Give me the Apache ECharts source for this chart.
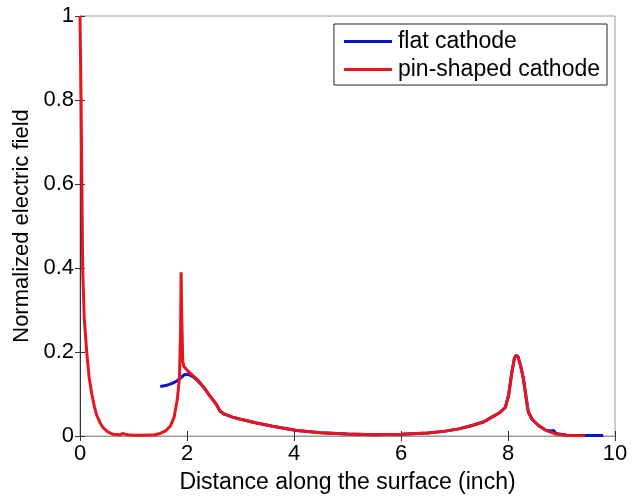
<!DOCTYPE html>
<html>
<head>
<meta charset="utf-8">
<script src="https://cdn.jsdelivr.net/npm/echarts@6/dist/echarts.min.js"></script>
<style>
  html, body { margin: 0; padding: 0; background: #fff; }
  #chart { width: 637px; height: 498px; }
</style>
</head>
<body>
<div id="chart"></div>
<script>
// 读图得到的数据
const redX = [0, 0.01, 0.02, 0.035, 0.05, 0.08, 0.125, 0.17, 0.22, 0.27, 0.31, 0.37, 0.43, 0.52, 0.62, 0.75, 0.8, 0.85, 0.9, 1.0, 1.2, 1.4, 1.5, 1.6, 1.69, 1.76, 1.82, 1.86, 1.88, 1.89, 1.90, 1.92, 1.94, 2.0, 2.1, 2.19, 2.3, 2.43, 2.55, 2.62, 2.7, 2.85, 3.0, 3.3, 3.6, 4.05, 4.5, 5.0, 5.5, 6.0, 6.5, 6.8, 7.08, 7.33, 7.55, 7.7, 7.85, 7.95, 8.01, 8.07, 8.12, 8.15, 8.19, 8.24, 8.29, 8.34, 8.38, 8.45, 8.57, 8.7, 8.88, 9.1, 9.44];
const redY = [1.0, 0.9, 0.8, 0.6, 0.4, 0.28, 0.2, 0.14, 0.1, 0.07, 0.05, 0.033, 0.02, 0.01, 0.004, 0.003, 0.006, 0.004, 0.003, 0.002, 0.002, 0.003, 0.006, 0.012, 0.024, 0.045, 0.088, 0.14, 0.25, 0.39, 0.3, 0.18, 0.166, 0.157, 0.145, 0.135, 0.118, 0.095, 0.075, 0.059, 0.052, 0.045, 0.04, 0.031, 0.023, 0.013, 0.008, 0.005, 0.003, 0.004, 0.007, 0.011, 0.017, 0.025, 0.034, 0.045, 0.056, 0.068, 0.096, 0.15, 0.185, 0.192, 0.188, 0.165, 0.135, 0.09, 0.057, 0.04, 0.025, 0.014, 0.005, 0.002, 0.0];

const blueX = [1.5, 1.6, 1.7, 1.8, 1.88, 1.95, 2.02, 2.1, 2.19, 2.3, 2.43, 2.55, 2.62, 2.7, 2.85, 3.0, 3.3, 3.6, 4.05, 4.5, 5.0, 5.5, 6.0, 6.5, 6.8, 7.08, 7.33, 7.55, 7.7, 7.85, 7.95, 8.01, 8.07, 8.12, 8.15, 8.19, 8.24, 8.29, 8.34, 8.38, 8.45, 8.57, 8.7, 8.8, 8.85, 8.9, 9.1, 9.4, 9.78];
const blueY = [0.118, 0.12, 0.124, 0.13, 0.138, 0.146, 0.147, 0.142, 0.133, 0.118, 0.095, 0.075, 0.059, 0.052, 0.045, 0.04, 0.031, 0.023, 0.013, 0.008, 0.005, 0.003, 0.004, 0.007, 0.011, 0.017, 0.025, 0.034, 0.045, 0.056, 0.068, 0.096, 0.15, 0.185, 0.192, 0.188, 0.165, 0.135, 0.09, 0.057, 0.04, 0.025, 0.014, 0.012, 0.013, 0.006, 0.002, 0.001, 0.001];

const seriesNames = ['flat cathode', 'pin-shaped cathode'];

function toPairs(xs, ys) {
  return xs.map((x, i) => [x, ys[i]]);
}

const font = 'Liberation Sans, Arial, sans-serif';
const chart = echarts.init(document.getElementById('chart'));

const tickInside = { show: true, inside: true, length: 5, lineStyle: { color: '#333' } };

chart.setOption({
  animation: false,
  grid: {
    left: 80, right: 22, top: 16, bottom: 62,
    outerBoundsMode: 'none', containLabel: false,
    show: true, borderColor: '#999', borderWidth: 1
  },
  legend: {
    orient: 'vertical',
    right: 30,
    top: 24,
    backgroundColor: '#fff',
    borderColor: '#222',
    borderWidth: 1,
    padding: [5, 7, 3, 10],
    itemGap: 3,
    itemWidth: 48,
    itemHeight: 3,
    icon: 'rect',
    textStyle: { fontFamily: font, fontSize: 23, color: '#000', lineHeight: 25, padding: [0, 0, 0, 1] },
    data: seriesNames
  },
  xAxis: [
    {
      type: 'value', min: 0, max: 10, interval: 2,
      name: 'Distance along the surface (inch)',
      nameLocation: 'middle', nameGap: 35,
      nameTextStyle: { fontFamily: font, fontSize: 23, color: '#000' },
      axisLine: { lineStyle: { color: '#999' } },
      axisTick: tickInside,
      axisLabel: { fontFamily: font, fontSize: 22, color: '#000', margin: 7 },
      splitLine: { show: false }
    },
    {
      type: 'value', min: 0, max: 10, interval: 2, position: 'top',
      axisLine: { show: false }, axisTick: tickInside,
      axisLabel: { show: false }, splitLine: { show: false }
    }
  ],
  yAxis: [
    {
      type: 'value', min: 0, max: 1, interval: 0.2,
      name: 'Normalized electric field',
      nameLocation: 'middle', nameGap: 34,
      nameTextStyle: { fontFamily: font, fontSize: 22, color: '#000' },
      axisLine: { show: true, lineStyle: { color: '#333' } },
      axisTick: tickInside,
      axisLabel: { fontFamily: font, fontSize: 22, color: '#000', margin: 6 },
      splitLine: { show: false }
    },
    {
      type: 'value', min: 0, max: 1, interval: 0.2, position: 'right',
      axisLine: { show: false }, axisTick: tickInside,
      axisLabel: { show: false }, splitLine: { show: false }
    }
  ],
  series: [
    {
      name: seriesNames[0], type: 'line', showSymbol: false,
      lineStyle: { color: '#0a14c8', width: 3 }, itemStyle: { color: '#0a14c8' },
      data: toPairs(blueX, blueY)
    },
    {
      name: seriesNames[1], type: 'line', showSymbol: false,
      lineStyle: { color: '#e8161c', width: 3 }, itemStyle: { color: '#e8161c' },
      data: toPairs(redX, redY)
    }
  ]
});
</script>
</body>
</html>
